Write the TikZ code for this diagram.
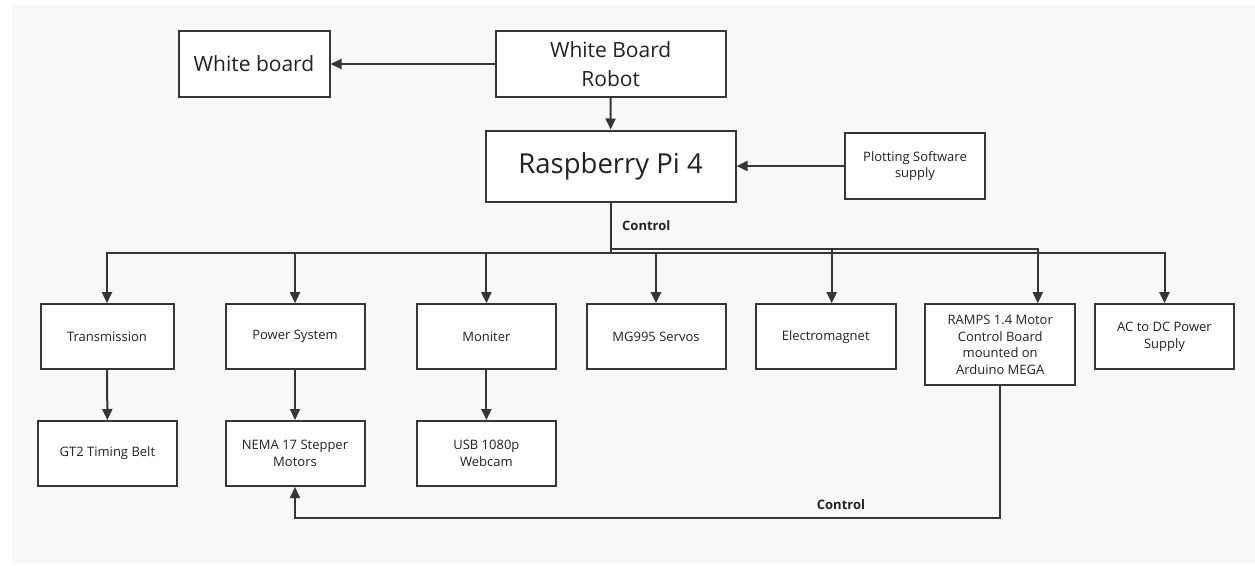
\documentclass[tikz,border=0pt]{standalone}
\usepackage{fontspec}
\setmainfont{Open Sans}
\usetikzlibrary{arrows.meta,calc}
\definecolor{bgcol}{HTML}{F8F8F8}
\definecolor{linecol}{HTML}{363636}
\definecolor{txtcol}{HTML}{222222}
\tikzset{
  box/.style={draw=linecol, line width=2pt, fill=white, inner sep=2pt, align=center, text=txtcol, minimum height=65pt},
  smallbox/.style={box, font=\fontsize{13}{16.5}\selectfont, minimum width=139pt},
  conn/.style={draw=linecol, line width=2pt},
  arr/.style={conn, -{Triangle[length=11pt,width=10pt]}},
  lbl/.style={font=\fontsize{13}{15}\selectfont\bfseries, text=txtcol, inner sep=0pt}
}
\begin{document}
\begin{tikzpicture}[x=1pt,y=-1pt]
\useasboundingbox (0,0) rectangle (1255,565);
\fill[bgcol] (12,5) rectangle (1255,563);

\node[box, minimum width=151pt, minimum height=66pt, font=\fontsize{21}{29}\selectfont] (wb) at (254,64) {White board};
\node[box, minimum width=230pt, minimum height=66pt, font=\fontsize{21}{29}\selectfont] (wbr) at (610.7,64) {White Board\\Robot};
\node[box, minimum width=250pt, minimum height=71pt, font=\fontsize{27.5}{32}\selectfont] (rpi) at (610.6,166) {Raspberry Pi 4};
\node[smallbox, minimum width=140pt, minimum height=66pt] (plot) at (915,166) {Plotting Software\\supply};

\node[smallbox, minimum width=133pt] (trans) at (107,336.7) {Transmission};
\node[smallbox] (pow) at (295,336.7) {Power System};
\node[smallbox] (mon) at (486.4,336.7) {Moniter};
\node[smallbox] (mg) at (656,336.7) {MG995 Servos};
\node[smallbox, minimum width=140pt] (em) at (825.7,336.7) {Electromagnet};
\node[smallbox, minimum width=150pt, minimum height=81pt] (ramps) at (1000.2,344.7) {RAMPS 1.4 Motor\\Control Board\\mounted on\\Arduino MEGA};
\node[smallbox] (acdc) at (1164.5,336.7) {AC to DC Power\\Supply};

\node[smallbox] (gt2) at (107.4,453.5) {GT2 Timing Belt};
\node[smallbox] (nema) at (295,453.5) {NEMA 17 Stepper\\Motors};
\node[smallbox] (usb) at (486.4,453.5) {USB 1080p\\Webcam};

\coordinate (busL) at (610.6,253);
\coordinate (busU) at (610.6,248.5);

\draw[arr] (wbr.west) -- (wb.east);
\draw[arr] (wbr.south) -- (rpi.north);
\draw[arr] (plot.west) -- (rpi.east);

\draw[conn] (rpi.south) -- (busL);
\draw[arr] (busL) -| (trans.north);
\draw[arr] (busL) -| (pow.north);
\draw[arr] (busL) -| (mon.north);
\draw[arr] (busL) -| (mg.north);
\draw[arr] (busL) -| (acdc.north);
\draw[arr] (busU) -| ([xshift=6pt]em.north);
\draw[arr] (busU) -| ([xshift=37.6pt]ramps.north);

\draw[arr] (trans.south) -- (gt2.north);
\draw[arr] (pow.south) -- (nema.north);
\draw[arr] (mon.south) -- (usb.north);

\draw[arr] (ramps.south) -- ++(0,131.4) -| (nema.south);

\node[lbl, anchor=west] (c1) at (622,225.5) {Control};
\node[lbl] (c2) at (841,505) {Control};
\end{tikzpicture}
\end{document}
